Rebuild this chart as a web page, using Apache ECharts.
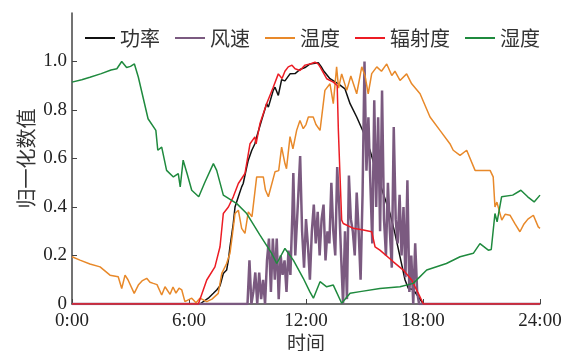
<!DOCTYPE html>
<html>
<head>
<meta charset="utf-8">
<script src="https://cdn.jsdelivr.net/npm/echarts@6/dist/echarts.min.js"></script>
<style>
  html, body { margin: 0; padding: 0; background: #fff; }
  #main { width: 569px; height: 351px; }
</style>
</head>
<body>
<div id="main"></div>
<script>
// 各序列 [时间(小时), 归一化值]
var seriesNames = ['功率', '风速', '温度', '辐射度', '湿度'];
var xTicks = [0, 6, 12, 18, 24];
var yTicks = [0, 0.2, 0.4, 0.6, 0.8, 1.0];

var power = [
    [0, 0], [6.56, 0], [6.99, 0.024], [7.25, 0.044], [7.42, 0.058], [7.59, 0.075], [7.76, 0.126],
    [7.93, 0.14], [8.02, 0.181], [8.1, 0.236], [8.27, 0.332], [8.36, 0.4], [8.53, 0.442], [8.7, 0.483],
    [8.78, 0.497], [8.96, 0.565], [9.04, 0.593], [9.22, 0.634], [9.38, 0.661], [9.47, 0.689], [9.73, 0.76],
    [9.98, 0.826], [10.07, 0.812], [10.32, 0.881], [10.41, 0.894], [10.58, 0.86], [10.75, 0.925],
    [10.92, 0.92], [11.18, 0.949], [11.44, 0.95], [11.69, 0.967], [11.95, 0.975], [12.21, 0.99],
    [12.63, 0.995], [12.77, 0.98], [12.89, 0.963], [13.23, 0.929], [13.66, 0.908], [14.0, 0.887],
    [14.26, 0.826], [14.6, 0.771], [14.94, 0.709], [15.28, 0.634], [15.63, 0.538], [15.96, 0.456],
    [16.31, 0.373], [16.56, 0.291], [16.82, 0.195], [17.08, 0.099], [17.25, 0.064], [17.49, 0.06],
    [17.76, 0.03], [18.02, 0], [24, 0]
];

var windSpeed = [
    [0, 0], [9.0, 0], [9.1, 0.18], [9.2, 0], [9.3, 0.05], [9.4, 0.13], [9.5, 0], [9.6, 0.13], [9.7, 0.02],
    [9.8, 0.1], [9.9, 0], [10.0, 0.18], [10.1, 0.27], [10.2, 0.05], [10.3, 0.27], [10.4, 0.1], [10.5, 0.27],
    [10.6, 0.02], [10.7, 0.2], [10.8, 0.12], [10.9, 0.18], [11.0, 0.05], [11.1, 0.22], [11.2, 0.12],
    [11.3, 0.37], [11.35, 0.54], [11.45, 0.2], [11.6, 0.44], [11.7, 0.61], [11.8, 0.3], [11.9, 0.15],
    [12.0, 0.35], [12.1, 0.24], [12.2, 0.1], [12.3, 0.3], [12.4, 0.41], [12.5, 0.25], [12.6, 0.38],
    [12.7, 0.2], [12.8, 0.35], [12.9, 0.41], [13.0, 0.18], [13.1, 0.3], [13.2, 0.25], [13.3, 0.5],
    [13.4, 0.3], [13.5, 0.2], [13.6, 0.565], [13.7, 0.41], [13.8, 0.2], [13.9, 0.0], [14.0, 0.3],
    [14.1, 0.02], [14.2, 0.53], [14.3, 0.35], [14.4, 0.3], [14.5, 0.2], [14.6, 0.46], [14.7, 0.3],
    [14.8, 0.1], [14.9, 0.45], [15.0, 1.0], [15.1, 0.55], [15.2, 0.77], [15.3, 0.5], [15.4, 0.25],
    [15.5, 0.84], [15.6, 0.4], [15.7, 0.77], [15.8, 0.3], [15.9, 0.88], [16.0, 0.35], [16.1, 0.2],
    [16.2, 0.5], [16.3, 0.3], [16.4, 0.15], [16.5, 0.73], [16.6, 0.35], [16.7, 0.25], [16.8, 0.45],
    [16.9, 0.2], [17.0, 0.4], [17.1, 0.11], [17.2, 0.51], [17.3, 0.05], [17.4, 0.2], [17.5, 0.0],
    [17.6, 0.25], [17.7, 0.05], [17.8, 0], [24, 0]
];

var temperature = [
    [0, 0.195], [0.41, 0.181], [0.92, 0.165], [1.44, 0.153], [1.95, 0.119], [2.37, 0.112], [2.55, 0.064],
    [2.72, 0.119], [2.87, 0.1], [2.97, 0.099], [3.19, 0.044], [3.4, 0.078], [3.59, 0.095], [3.83, 0.106],
    [4.0, 0.09], [4.17, 0.085], [4.36, 0.08], [4.6, 0.037], [4.77, 0.071], [5.03, 0.04], [5.18, 0.07],
    [5.33, 0.045], [5.49, 0.065], [5.63, 0.058], [5.79, 0.01], [5.88, 0.003], [6.14, 0.024], [6.36, 0.005],
    [6.56, 0.024], [6.91, 0.01], [7.18, 0.02], [7.5, 0.044], [7.68, 0.126], [7.93, 0.167], [8.1, 0.209],
    [8.19, 0.263], [8.36, 0.373], [8.53, 0.387], [8.7, 0.312], [8.87, 0.291], [9.04, 0.38], [9.23, 0.36],
    [9.47, 0.524], [9.81, 0.524], [9.92, 0.47], [10.07, 0.442], [10.41, 0.545], [10.6, 0.55],
    [10.75, 0.647], [10.92, 0.579], [11.0, 0.558], [11.18, 0.69], [11.33, 0.64], [11.52, 0.716],
    [11.69, 0.757], [11.86, 0.723], [12.0, 0.74], [12.12, 0.771], [12.37, 0.771], [12.51, 0.74],
    [12.72, 0.716], [12.97, 0.881], [13.23, 0.908], [13.4, 0.826], [13.57, 0.978], [13.67, 0.89],
    [13.83, 0.949], [14.09, 0.881], [14.3, 0.94], [14.6, 0.867], [14.86, 0.978], [15.03, 0.94],
    [15.19, 0.867], [15.37, 0.95], [15.63, 0.978], [15.87, 0.96], [16.14, 0.99], [16.4, 0.942],
    [16.56, 0.96], [16.82, 0.922], [17.16, 0.949], [17.42, 0.908], [17.85, 0.867], [18.36, 0.771],
    [18.87, 0.716], [19.38, 0.661], [19.55, 0.634], [19.9, 0.613], [20.24, 0.634], [20.67, 0.551],
    [21.08, 0.551], [21.44, 0.551], [21.6, 0.524], [21.69, 0.4], [21.79, 0.42], [22.04, 0.346],
    [22.21, 0.37], [22.46, 0.366], [22.72, 0.33], [22.97, 0.298], [23.18, 0.33], [23.38, 0.35],
    [23.66, 0.366], [23.91, 0.318], [24, 0.312]
];

var radiation = [
    [0, 0], [6.48, 0], [6.91, 0.099], [7.33, 0.153], [7.59, 0.236], [7.76, 0.373], [8.02, 0.4],
    [8.27, 0.442], [8.53, 0.497], [8.87, 0.538], [9.13, 0.661], [9.38, 0.689], [9.44, 0.66], [9.64, 0.744],
    [9.98, 0.826], [10.32, 0.894], [10.58, 0.949], [10.77, 0.93], [10.92, 0.96], [11.09, 0.978],
    [11.28, 0.985], [11.44, 0.97], [11.69, 0.963], [11.95, 0.985], [12.21, 0.99], [12.46, 0.997],
    [12.62, 0.99], [12.72, 0.978], [13.06, 0.929], [13.4, 0.915], [13.6, 0.901], [13.66, 0.716],
    [13.74, 0.538], [13.83, 0.346], [13.91, 0.332], [14.43, 0.312], [14.94, 0.305], [15.37, 0.298],
    [15.54, 0.236], [15.79, 0.222], [16.48, 0.174], [16.99, 0.14], [17.42, 0.099], [17.76, 0.044],
    [18.02, 0], [24, 0]
];

var humidity = [
    [0, 0.915], [0.5, 0.925], [0.92, 0.935], [1.5, 0.95], [2.0, 0.965], [2.3, 0.97], [2.55, 1.0],
    [2.8, 0.975], [3.0, 0.98], [3.2, 0.99], [3.4, 0.936], [3.9, 0.764], [4.3, 0.716], [4.4, 0.634],
    [4.6, 0.647], [4.85, 0.551], [5.2, 0.524], [5.45, 0.538], [5.55, 0.483], [5.7, 0.593], [5.9, 0.538],
    [6.14, 0.469], [6.5, 0.442], [6.82, 0.503], [7.25, 0.579], [7.42, 0.551], [7.76, 0.449],
    [8.45, 0.414], [8.96, 0.373], [9.64, 0.284], [10.24, 0.209], [10.5, 0.167], [10.92, 0.229],
    [11.35, 0.181], [11.86, 0.106], [12.2, 0.05], [12.38, 0.024], [12.72, 0.092], [13.06, 0.071],
    [13.4, 0.078], [13.83, 0.003], [14.26, 0.044], [14.77, 0.051], [15.79, 0.064], [16.82, 0.071],
    [17.5, 0.085], [18.19, 0.14], [19.2, 0.167], [19.9, 0.195], [20.58, 0.209], [20.92, 0.249],
    [21.35, 0.222], [21.5, 0.225], [21.69, 0.373], [21.8, 0.339], [22.03, 0.442], [22.6, 0.449],
    [23.02, 0.469], [23.37, 0.442], [23.7, 0.421], [24, 0.449]
];

var colors = ['#111111', '#7b5a80', '#e8892a', '#ec1c24', '#1f8a3e'];

var chart = echarts.init(document.getElementById('main'));

//数字用衬线字体
var numFont = '"Liberation Serif", "DejaVu Serif", serif';
var cjkFont = '"Noto Sans CJK SC", sans-serif';

function lineSeries(name, data, color, width) {
    return {
        name: name,
        type: 'line',
        data: data,
        symbol: 'none',
        color: color,
        lineStyle: { color: color, width: width },
        animation: false
    };
}

chart.setOption({
    backgroundColor: '#fff',
    grid: { left: 72, right: 29, top: 13, bottom: 47, outerBoundsMode: 'none' },
    legend: {
        data: seriesNames,
        left: 80,
        top: 23,
        icon: 'rect',
        itemWidth: 30,
        itemHeight: 2,
        itemGap: 15,
        textStyle: { fontFamily: cjkFont, fontSize: 20, color: '#333' }
    },
    xAxis: {
        type: 'value',
        min: 0,
        max: 24,
        interval: 6,
        name: '时间',
        nameLocation: 'middle',
        nameGap: 29,
        nameMoveOverlap: false,
        nameTextStyle: { fontFamily: cjkFont, fontSize: 19, color: '#333' },
        splitLine: { show: false },
        axisLine: { lineStyle: { color: '#444', width: 1.5 } },
        axisTick: { inside: true, length: 5, lineStyle: { color: '#444' } },
        axisLabel: {
            margin: 8,
            fontFamily: numFont,
            fontSize: 19,
            color: '#222',
            formatter: function (v) { return v + ':00'; }
        }
    },
    yAxis: {
        type: 'value',
        min: 0,
        max: 1.2,
        interval: 0.2,
        name: '归一化数值',
        nameLocation: 'middle',
        nameGap: 36,
        nameMoveOverlap: false,
        nameTextStyle: { fontFamily: cjkFont, fontSize: 20, color: '#333' },
        splitLine: { show: false },
        axisLine: { show: true, lineStyle: { color: '#444', width: 1.5 } },
        axisTick: { show: true, inside: true, length: 5, customValues: yTicks, lineStyle: { color: '#444' } },
        axisLabel: {
            margin: 5,
            fontFamily: numFont,
            fontSize: 19,
            color: '#222',
            customValues: yTicks,
            formatter: function (v) { return v === 0 ? '0' : v.toFixed(1); }
        }
    },
    series: [
        lineSeries(seriesNames[0], power, colors[0], 1.5),
        lineSeries(seriesNames[1], windSpeed, colors[1], 2.5),
        lineSeries(seriesNames[2], temperature, colors[2], 1.5),
        lineSeries(seriesNames[3], radiation, colors[3], 1.5),
        lineSeries(seriesNames[4], humidity, colors[4], 1.5)
    ]
});
</script>
</body>
</html>
